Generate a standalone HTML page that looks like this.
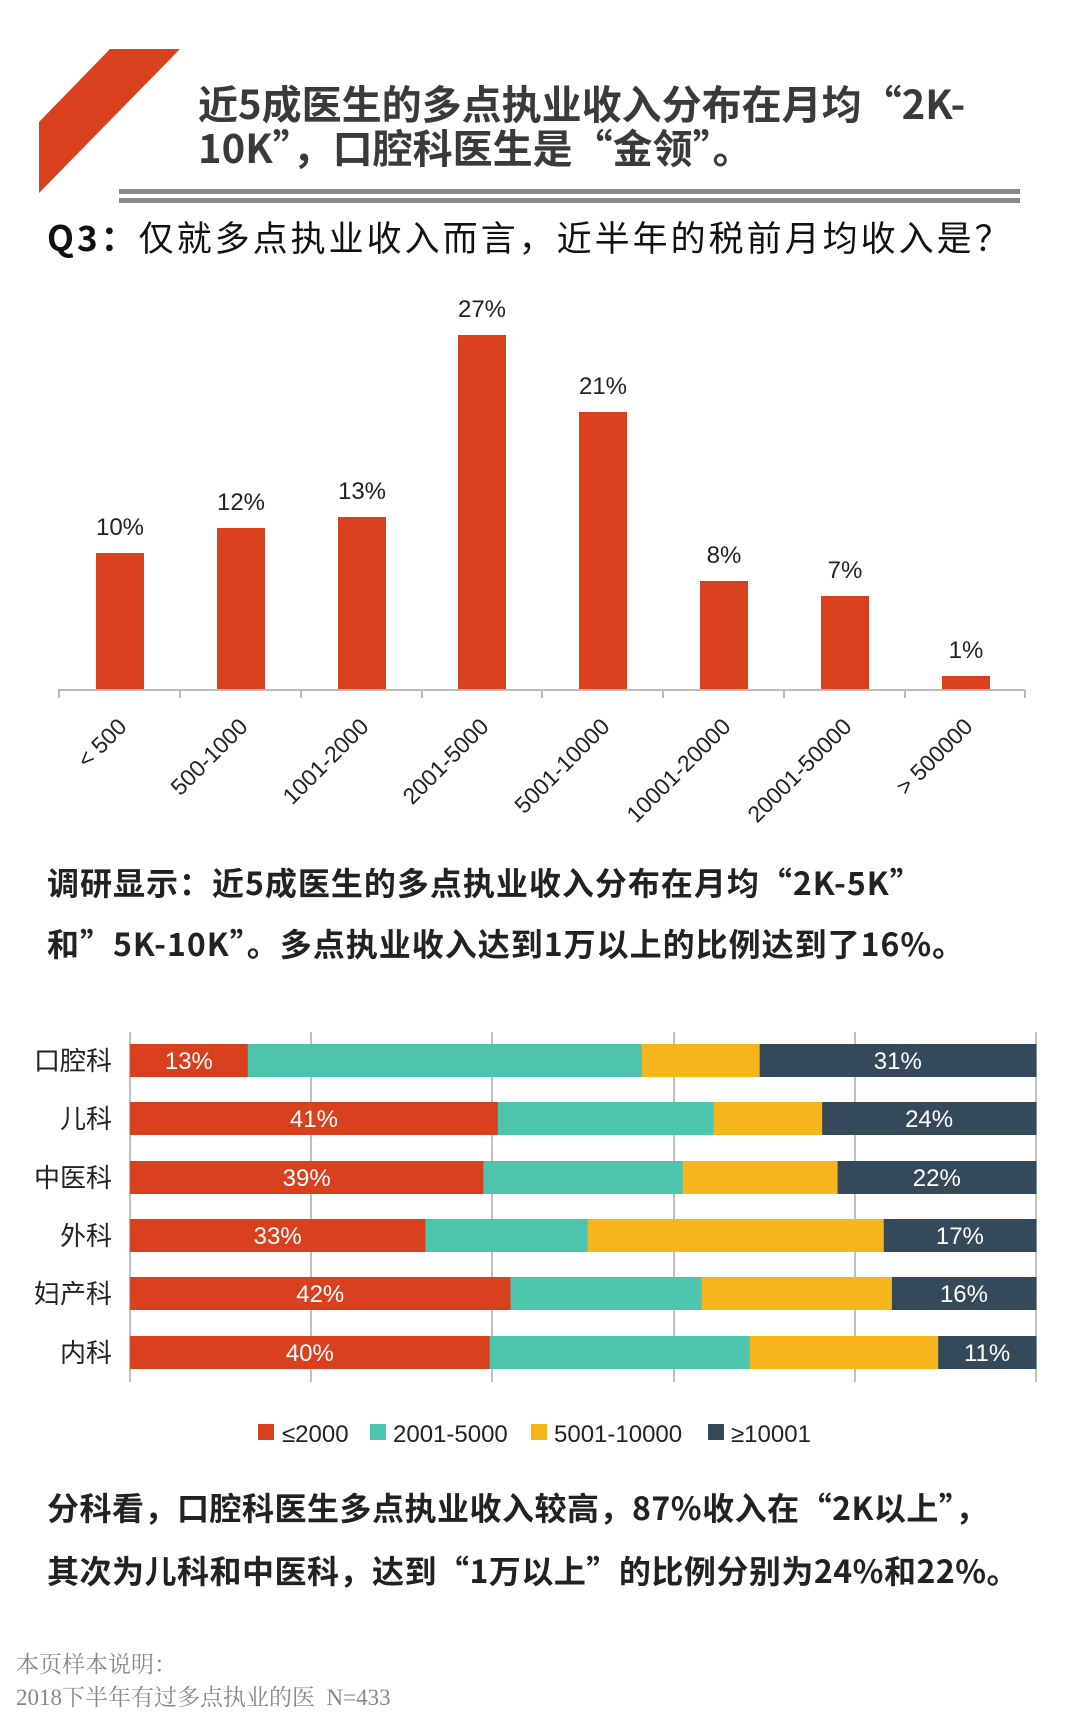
<!DOCTYPE html>
<html><head><meta charset="utf-8"><style>
html,body{margin:0;padding:0;background:#fff;}
body{width:1080px;height:1715px;position:relative;overflow:hidden;font-family:"Liberation Sans","Noto Sans CJK SC",sans-serif;}
.t{position:absolute;white-space:nowrap;}
.c{font-family:"Noto Sans CJK SC","Liberation Sans",sans-serif;}
</style></head><body>
<svg width="1080" height="1715" style="position:absolute;left:0;top:0">
<polygon points="110,49 180,49 39,193 39,122" fill="#d9411e"/>
<rect x="119" y="189" width="901" height="5" fill="#8a8a8a"/>
<rect x="119" y="198" width="901" height="5" fill="#8a8a8a"/>
<g fill="#d9411e">
<rect x="96" y="553" width="48" height="137"/>
<rect x="217" y="528" width="48" height="162"/>
<rect x="338" y="517" width="48" height="173"/>
<rect x="458" y="335" width="48" height="355"/>
<rect x="579" y="412" width="48" height="278"/>
<rect x="700" y="581" width="48" height="109"/>
<rect x="821" y="596" width="48" height="94"/>
<rect x="942" y="676" width="48" height="14"/>
</g>
<line x1="58" y1="690" x2="1025" y2="690" stroke="#bbb" stroke-width="2"/>
<g stroke="#bbb" stroke-width="2">
<line x1="59" y1="690" x2="59" y2="698"/><line x1="180" y1="690" x2="180" y2="698"/><line x1="301" y1="690" x2="301" y2="698"/><line x1="422" y1="690" x2="422" y2="698"/><line x1="542" y1="690" x2="542" y2="698"/><line x1="663" y1="690" x2="663" y2="698"/><line x1="784" y1="690" x2="784" y2="698"/><line x1="905" y1="690" x2="905" y2="698"/><line x1="1025" y1="690" x2="1025" y2="698"/>
</g>
<g font-family="Liberation Sans, sans-serif" font-size="24" fill="#222" text-anchor="middle">
<text x="120" y="535">10%</text><text x="241" y="510">12%</text><text x="362" y="499">13%</text><text x="482" y="317">27%</text><text x="603" y="394">21%</text><text x="724" y="563">8%</text><text x="845" y="578">7%</text><text x="966" y="658">1%</text>
</g>
<g font-family="Liberation Sans, sans-serif" font-size="23" fill="#222" text-anchor="end">
<text transform="translate(128,728) rotate(-45)">&lt; 500</text>
<text transform="translate(249,728) rotate(-45)">500-1000</text>
<text transform="translate(370,728) rotate(-45)">1001-2000</text>
<text transform="translate(490,728) rotate(-45)">2001-5000</text>
<text transform="translate(611,728) rotate(-45)">5001-10000</text>
<text transform="translate(732,728) rotate(-45)">10001-20000</text>
<text transform="translate(853,728) rotate(-45)">20001-50000</text>
<text transform="translate(974,728) rotate(-45)">&gt; 500000</text>
</g>
<g stroke="#aaa" stroke-width="1.5">
<line x1="130" y1="1032" x2="130" y2="1382"/><line x1="311" y1="1032" x2="311" y2="1382"/><line x1="492" y1="1032" x2="492" y2="1382"/><line x1="674" y1="1032" x2="674" y2="1382"/><line x1="855" y1="1032" x2="855" y2="1382"/><line x1="1036" y1="1032" x2="1036" y2="1382"/>
</g>
<g id="bars"></g>
<g font-family="Noto Sans CJK SC, sans-serif" font-size="26" fill="#222" text-anchor="end">
<text x="112" y="1070">口腔科</text><text x="112" y="1128">儿科</text><text x="112" y="1187">中医科</text><text x="112" y="1245">外科</text><text x="112" y="1303">妇产科</text><text x="112" y="1362">内科</text>
</g>
<g font-family="Liberation Sans, DejaVu Sans, sans-serif" font-size="24" fill="#222">
<rect x="258" y="1424" width="16" height="16" fill="#d9411e"/><text x="282" y="1442">≤2000</text>
<rect x="370" y="1424" width="16" height="16" fill="#4dc5ad"/><text x="393" y="1442">2001-5000</text>
<rect x="531" y="1424" width="16" height="16" fill="#f7b51c"/><text x="554" y="1442">5001-10000</text>
<rect x="708" y="1424" width="16" height="16" fill="#34495a"/><text x="731" y="1442">≥10001</text>
</g>
</svg>
<div class="t c" style="left:198px;top:80px;font-size:40px;font-weight:bold;color:#3a3a3a;line-height:44px;">近5成医生的多点执业收入分布在月均“2K-<br>10K”，口腔科医生是“金领”。</div>
<div class="t c" style="left:47px;top:215px;font-size:35px;letter-spacing:3px;color:#111;line-height:44px;"><b>Q3：</b>仅就多点执业收入而言，近半年的税前月均收入是？</div>
<div class="t c" style="left:47px;top:852px;font-size:32px;letter-spacing:1px;font-weight:bold;color:#222;line-height:61px;">调研显示：近5成医生的多点执业收入分布在月均“2K-5K”<br>和”5K-10K”。多点执业收入达到1万以上的比例达到了16%。</div>
<div class="t c" style="left:47px;top:1476px;font-size:32px;letter-spacing:0.5px;font-weight:bold;color:#222;line-height:63px;">分科看，口腔科医生多点执业收入较高，87%收入在“2K以上”，<br>其次为儿科和中医科，达到“1万以上”的比例分别为24%和22%。</div>
<div class="t" style="left:16px;top:1648px;font-size:23px;color:#888;font-family:'Liberation Serif','Noto Serif CJK SC',serif;line-height:33px;">本页样本说明：<br>2018下半年有过多点执业的医&nbsp;&nbsp;N=433</div>
<script>
var rows=[[13,43.5,13,30.5,"13%","31%"],[40.6,23.8,12,23.6,"41%","24%"],[39,22,17.1,21.9,"39%","22%"],[32.6,17.9,32.7,16.8,"33%","17%"],[42,21.1,21,15.9,"42%","16%"],[39.7,28.7,20.8,10.8,"40%","11%"]];
var tops=[1044,1102,1161,1219,1277,1336],cols=["#d9411e","#4dc5ad","#f7b51c","#34495a"];
var g=document.getElementById("bars"),s="",L=130,W=906;
rows.forEach(function(r,i){var x=L;for(var j=0;j<4;j++){var w=r[j]/100*W;s+='<rect x="'+x+'" y="'+tops[i]+'" width="'+(w+0.5)+'" height="33" fill="'+cols[j]+'"/>';
if(j==0)s+='<text x="'+(x+w/2)+'" y="'+(tops[i]+25)+'" fill="#fff" font-size="24" text-anchor="middle" font-family="Liberation Sans,sans-serif">'+r[4]+'</text>';
if(j==3)s+='<text x="'+(x+w/2)+'" y="'+(tops[i]+25)+'" fill="#fff" font-size="24" text-anchor="middle" font-family="Liberation Sans,sans-serif">'+r[5]+'</text>';
x+=w;}});
g.innerHTML=s;
</script>
</body></html>
